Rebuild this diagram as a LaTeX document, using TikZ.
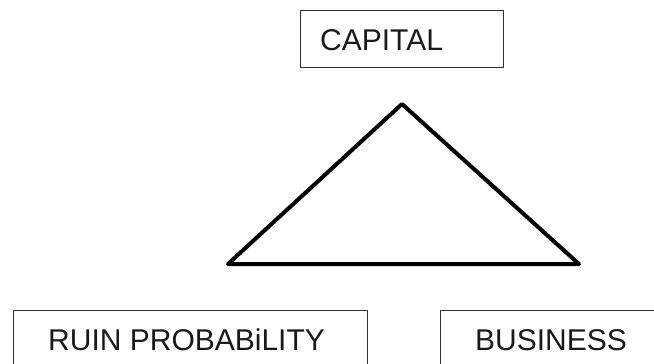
\documentclass[tikz,border=0pt]{standalone}
\usepackage{fontspec}
\setmainfont{Liberation Sans}
\begin{document}
\begin{tikzpicture}[x=1pt,y=-1pt,
  boxframe/.style={draw=black!80,line width=1.3pt,rectangle,inner sep=0pt,anchor=north west},
  lbl/.style={anchor=base west,inner sep=0pt,text=black!90,font=\fontsize{30}{36}\selectfont},
  tri/.style={draw=black,line width=4pt,line join=round}]
\useasboundingbox (0,0) rectangle (654,364);
\clip (0,0) rectangle (654,364);
\node[boxframe,minimum width=203pt,minimum height=57pt] (capbox) at (300,10) {};
\node[boxframe,minimum width=354pt,minimum height=70pt] (ruinbox) at (13,310) {};
\node[boxframe,minimum width=230pt,minimum height=70pt] (busbox) at (440,310) {};
\node[lbl] (captxt) at (320,50) {CAPITAL};
\node[lbl] (ruintxt) at (48,350) {RUIN PROBABiLITY};
\node[lbl] (bustxt) at (475,350) {BUSINESS};
\coordinate (apex) at (402,104);
\coordinate (lv) at (228,264);
\coordinate (rv) at (579,264);
\draw[tri] (apex) -- (lv) -- (rv) -- cycle;
\end{tikzpicture}
\end{document}
